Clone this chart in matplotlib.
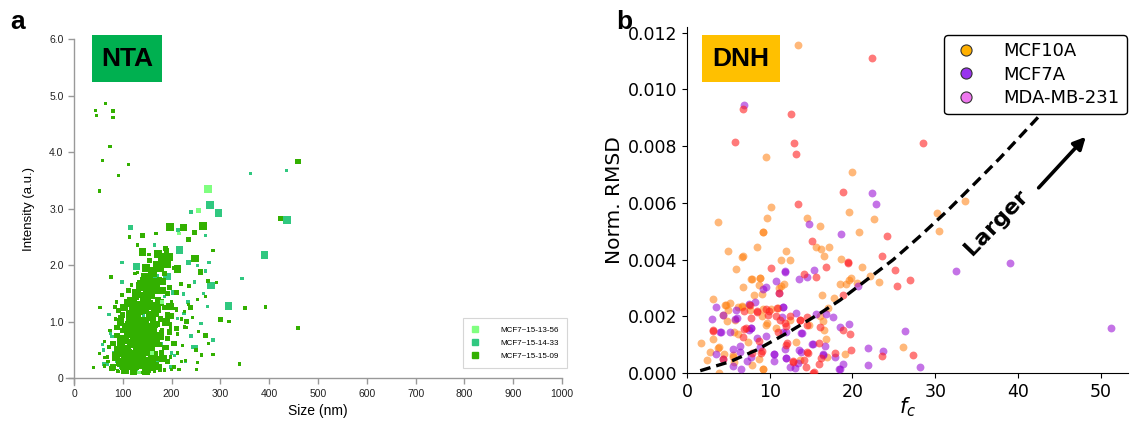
import matplotlib
matplotlib.use("Agg")
import matplotlib.pyplot as plt
from matplotlib.lines import Line2D
from matplotlib.patches import Rectangle

# ---------------- Panel a (NTA) data: (size nm, intensity, marker class) ----------------
nta_series = ["MCF7~15-13-56", "MCF7~15-14-33", "MCF7~15-15-09"]
nta_colors = ["#80ff80", "#30c880", "#33b000"]

light_size = [274, 255, 215, 133, 160, 180]
light_int = [3.35, 2.97, 2.56, 0.10, 0.45, 1.35]
light_cls = [3, 2, 1, 1, 1, 1]

teal_size = [362, 435, 240, 279, 296, 437, 390, 317, 344, 270, 213, 116, 165, 216, 234, 253, 277,
             270, 98, 128, 167, 191, 247, 281, 98, 204, 224, 265, 234, 274, 101, 72, 212, 260, 285,
             78, 60, 60, 110, 243, 206,
             68, 82, 96, 102, 108, 115, 122, 128, 135, 143, 148, 155, 160, 170, 178, 185, 192, 200,
             210, 225, 240, 250, 58, 75, 88, 198, 228]
teal_int = [3.62, 3.67, 2.94, 3.06, 2.92, 2.80, 2.18, 1.28, 1.76, 2.53, 2.62, 2.67, 2.36, 2.27, 2.05,
            1.99, 2.05, 1.90, 2.05, 1.98, 1.77, 1.80, 1.70, 1.64, 1.70, 1.52, 1.49, 1.50, 1.35, 1.27,
            1.27, 1.13, 1.06, 0.97, 0.68, 0.74, 0.50, 0.25, 0.10, 0.55, 0.40,
            0.25, 0.45, 0.20, 0.55, 0.72, 0.30, 1.00, 0.15, 0.60, 1.10, 0.35, 1.30, 0.95, 0.30, 0.62,
            1.45, 1.00, 0.45, 0.90, 1.15, 0.75, 0.55, 0.60, 0.80, 0.30, 0.20, 0.30]
teal_cls = [1, 1, 1, 3, 3, 3, 3, 3, 1, 1, 1, 2, 1, 3, 2, 1, 1, 1, 1, 3, 3, 3, 1, 3, 1, 2, 1, 1, 1, 1,
            1, 1, 1, 1, 1, 1, 1, 1, 1, 1, 1,
            1, 1, 1, 2, 1, 2, 2, 1, 2, 1, 1, 2, 1, 1, 1, 1, 1, 1, 1, 1, 1, 1, 1, 1, 1, 1, 1]

green_size = [64, 44, 46, 80, 80, 74, 58, 112, 91, 52,
              459, 423, 392, 350, 459, 339, 300, 318, 285, 285,
              264, 247, 234, 224, 197, 168, 141, 114, 130, 140, 154, 248, 183, 195, 190, 212, 259, 148,
              154, 149, 130, 76, 143, 134, 180, 275, 292, 163, 169, 125, 219, 236, 210, 270, 98, 114,
              159, 105, 87, 135, 253, 239, 84, 53, 122, 176, 197, 209, 226, 93, 231, 243, 226, 210,
              197, 255, 270, 276, 180, 74, 62, 52, 69, 62, 40, 89, 160, 176, 200, 215, 251, 253, 250,
              261, 229,
              62, 70, 78, 84, 90, 92, 97, 100, 104, 108, 112, 116, 120, 124, 128, 132, 136, 140, 144,
              148, 152, 156, 160, 165, 170, 175, 180, 186, 192, 198, 205, 212, 220,
              72, 80, 88, 95, 100, 105, 110, 113, 118, 122, 126, 130, 134, 138, 142, 146, 150, 154,
              158, 162, 166, 170, 175, 180, 186, 192, 198, 205, 212, 222, 230,
              85, 92, 100, 108, 115, 120, 126, 130, 136, 140, 145, 150, 155, 160, 166, 172, 178, 185,
              192, 200, 210, 220, 235,
              132, 140, 145, 150, 155, 160, 165, 170, 175, 180, 185, 190, 195, 205, 118, 125]
green_int = [4.86, 4.74, 4.65, 4.73, 4.61, 4.10, 3.85, 3.78, 3.59, 3.31,
             3.83, 2.83, 1.26, 1.24, 0.89, 0.25, 1.04, 1.00, 0.42, 2.26,
             2.69, 2.58, 2.46, 2.67, 2.68, 2.56, 2.52, 2.50, 2.36, 2.23, 2.19, 2.12, 2.09, 2.15, 2.02,
             1.93, 1.88, 1.95, 2.09, 1.83, 1.87, 1.79, 1.72, 1.69, 1.71, 1.72, 1.69, 1.61, 1.56, 1.53,
             1.67, 1.63, 1.52, 1.45, 1.47, 1.40, 1.47, 1.37, 1.35, 1.47, 1.39, 1.25, 1.26, 1.25, 1.30,
             1.34, 1.27, 1.23, 1.18, 1.09, 1.01, 1.07, 0.91, 0.88, 0.96, 0.83, 0.75, 0.62, 0.86, 0.84,
             0.65, 0.44, 0.38, 0.37, 0.19, 0.13, 0.16, 0.15, 0.16, 0.16, 0.16, 0.28, 0.50, 0.41, 0.32,
             0.22, 0.30, 0.18, 0.35, 0.12, 0.26, 0.42, 0.20, 0.32, 0.14, 0.45, 0.25, 0.12, 0.38, 0.20,
             0.30, 0.10, 0.42, 0.22, 0.33, 0.14, 0.40, 0.25, 0.12, 0.35, 0.20, 0.45, 0.15, 0.30, 0.38,
             0.20, 0.45, 0.30,
             0.55, 0.62, 0.75, 0.58, 0.85, 0.68, 0.52, 0.95, 0.78, 0.60, 0.88, 0.70, 0.52, 0.95, 0.80,
             0.62, 0.90, 0.72, 0.55, 0.85, 0.68, 0.95, 0.60, 0.80, 0.55, 0.70, 0.90, 0.62, 0.78, 0.58,
             0.90,
             1.05, 1.20, 1.12, 1.35, 1.05, 1.25, 1.45, 1.10, 1.30, 1.02, 1.20, 1.42, 1.08, 1.28, 1.15,
             1.40, 1.05, 1.25, 1.12, 1.35, 1.20, 1.05, 1.30,
             1.55, 1.65, 1.80, 1.58, 1.72, 1.90, 1.62, 2.00, 1.75, 2.15, 1.85, 2.25, 1.60, 1.95, 1.65,
             1.85]
green_cls = [1, 1, 1, 1, 1, 1, 1, 1, 1, 1,
             2, 2, 1, 1, 1, 1, 2, 1, 1, 1,
             3, 2, 2, 3, 3, 1, 2, 1, 1, 3, 1, 3, 3, 3, 3, 3, 2, 3, 2, 1, 1, 1, 3, 2, 3, 1, 1, 3, 3, 1,
             1, 1, 2, 1, 1, 2, 3, 1, 1, 2, 1, 2, 1, 1, 1, 3, 3, 1, 1, 1, 2, 1, 1, 2, 1, 1, 2, 1, 1, 1,
             1, 1, 1, 1, 1, 1, 1, 1, 1, 1, 1, 1, 1, 1, 1,
             1, 1, 2, 2, 1, 2, 2, 2, 3, 2, 3, 3, 2, 3, 2, 3, 1, 3, 2, 2, 2, 2, 2, 1, 2, 2, 2, 1, 2, 1,
             1, 1, 1,
             1, 2, 2, 3, 2, 3, 3, 3, 3, 3, 3, 3, 3, 3, 3, 3, 3, 2, 3, 3, 2, 2, 2, 2, 2, 2, 1, 2, 1, 1,
             1,
             1, 2, 2, 2, 3, 3, 3, 3, 3, 3, 3, 3, 3, 3, 3, 2, 2, 2, 2, 1, 1, 1, 1,
             2, 3, 3, 3, 3, 3, 2, 3, 2, 3, 2, 2, 2, 1, 1, 1]

# dense core of the green cloud
core_size = [98, 106, 112, 118, 126, 133, 140, 147, 155, 162, 168,
             100, 108, 116, 124, 132, 139, 145, 152, 158, 164, 170,
             120, 128, 136, 144, 150, 157, 163, 168, 176, 184, 172, 188,
             90, 88, 95, 103, 112, 80, 86, 176, 182, 190, 188, 196, 200, 180, 192,
             110, 122, 130, 137, 148, 155, 160, 128, 112, 142,
             104, 118, 134, 150, 166, 96, 140, 158, 146, 124]
core_int = [0.28, 0.50, 0.22, 0.62, 0.32, 0.78, 0.25, 0.55, 0.85, 0.40, 0.62,
            0.70, 0.90, 1.12, 0.98, 1.20, 0.60, 1.00, 1.30, 1.10, 0.95, 1.22,
            1.35, 1.50, 1.62, 1.45, 1.75, 1.55, 1.85, 1.70, 1.95, 2.05, 2.20, 2.30,
            0.50, 0.90, 1.00, 1.25, 1.55, 0.20, 0.40, 0.75, 0.35, 0.55, 1.00, 0.82, 1.10, 1.55, 1.50,
            0.38, 0.12, 0.50, 0.95, 0.12, 0.30, 0.70, 1.25, 0.80, 1.25,
            0.15, 0.42, 0.35, 0.48, 0.22, 0.65, 0.72, 0.25, 0.90, 0.72]
core_cls = [4, 4, 4, 4, 4, 4, 4, 4, 4, 4, 3,
            3, 4, 4, 4, 4, 4, 4, 4, 4, 3, 3,
            4, 4, 4, 4, 4, 4, 3, 3, 3, 3, 3, 2,
            3, 2, 3, 3, 2, 2, 3, 3, 3, 2, 3, 2, 2, 3, 2,
            4, 3, 4, 4, 3, 4, 4, 4, 4, 4,
            3, 4, 4, 4, 3, 3, 4, 4, 4, 4]

nta_xticks = [0, 100, 200, 300, 400, 500, 600, 700, 800, 900, 1000]
nta_yticks = [0, 1, 2, 3, 4, 5, 6]
nta_yticklabels = ["0", "1.0", "2.0", "3.0", "4.0", "5.0", "6.0"]

# ---------------- Panel b (DNH) data ----------------
orange_fc = [13.4, 9.6, 19.9, 10.1, 3.7, 9.7, 14.5, 16.1, 19.6, 22.6, 30.2, 30.5, 9.2, 20.8, 4.9, 6.8,
             8.5, 12.0, 11.4, 12.5, 16.2, 17.2, 16.5, 18.6, 21.2, 5.9, 23.2, 22.1, 33.6, 26.1, 19.8,
             19.2, 19.6, 20.5, 18.5, 17.8, 16.3, 15.6, 11.7, 11.1, 8.8, 7.8, 9.1, 8.1, 6.8, 6.7, 9.2,
             3.1, 4.6, 5.2, 4.3, 3.1, 1.65, 2.8, 2.45, 3.8, 3.9, 4.8, 5.8, 6.2, 6.6, 5.7, 6.2, 5.5, 7.6,
             7.4, 8.7, 9.2, 9.7, 9.1, 11.0, 12.4, 14.8, 16.4, 17.1, 16.1, 16.5, 16.8, 16.9, 19.1, 3.9,
             4.7, 5.0, 6.6, 7.5, 9.2, 10.1, 9.5, 10.7, 13.2, 13.6, 9.2, 7.9, 4.5, 5.5, 5.7, 11.4, 7.7,
             8.8, 8.7]
orange_y = [0.01156, 0.00763, 0.00707, 0.00584, 0.00532, 0.00548, 0.00546, 0.00520, 0.00569, 0.00543,
            0.00565, 0.00501, 0.00497, 0.00496, 0.00429, 0.00412, 0.00443, 0.00430, 0.00398, 0.00399,
            0.00436, 0.00443, 0.00414, 0.00403, 0.00374, 0.00368, 0.00320, 0.00342, 0.00608, 0.00092,
            0.00334, 0.00314, 0.00328, 0.00319, 0.00314, 0.00265, 0.00275, 0.00446, 0.00313, 0.00300,
            0.00336, 0.00332, 0.00278, 0.00274, 0.00304, 0.00410, 0.00498, 0.00261, 0.00240, 0.00248,
            0.00205, 0.00121, 0.00105, 0.00073, 0.00046, 0.00089, 0.00001, 0.00185, 0.00187, 0.00234,
            0.00236, 0.00146, 0.00137, 0.00058, 0.00222, 0.00110, 0.00049, 0.00013, 0.00175, 0.00202,
            0.00228, 0.00187, 0.00169, 0.00182, 0.00230, 0.00201, 0.00152, 0.00119, 0.00058, 0.00068,
            0.00093, 0.00240, 0.00222, 0.00234, 0.00240, 0.00226, 0.00226, 0.00169, 0.00158, 0.00110,
            0.00046, 0.00013, 0.00028, 0.00066, 0.00063, 0.00040, 0.00308, 0.00332, 0.00334, 0.00310]

red_fc = [22.4, 6.76, 12.6, 5.84, 12.9, 28.5, 13.2, 18.8, 13.4, 24.2, 15.1, 19.4, 23.6, 10.1, 16.8,
          25.1, 25.4, 27.0, 27.3, 23.6, 19.4, 18.8, 15.6, 14.1, 3.2, 6.9, 7.6, 8.4, 7.7, 6.8, 8.7, 8.9,
          9.5, 9.9, 11.0, 10.8, 11.2, 12.0, 12.1, 12.8, 12.4, 13.7, 14.5, 14.2, 14.4, 15.3, 14.5, 16.1,
          15.9, 16.2, 17.9, 19.8, 18.8, 19.7, 6.9, 8.4, 9.8, 10.9, 7.1, 11.8, 12.0, 13.7, 14.5, 14.6,
          12.8, 9.1, 7.8, 4.3, 16.0, 15.2, 11.1, 3.2]
red_y = [0.01110, 0.00931, 0.00912, 0.00815, 0.00810, 0.00812, 0.00771, 0.00637, 0.00597, 0.00483,
         0.00465, 0.00392, 0.00414, 0.00369, 0.00373, 0.00362, 0.00308, 0.00328, 0.00062, 0.00061,
         0.00389, 0.00275, 0.00340, 0.00349, 0.00147, 0.00155, 0.00240, 0.00216, 0.00193, 0.00128,
         0.00114, 0.00072, 0.00225, 0.00218, 0.00146, 0.00202, 0.00187, 0.00167, 0.00105, 0.00041,
         0.00202, 0.00187, 0.00073, 0.00047, 0.00022, 0.00002, 0.00199, 0.00163, 0.00107, 0.00052,
         0.00072, 0.00081, 0.00152, 0.00138, 0.00219, 0.00220, 0.00205, 0.00228, 0.00158, 0.00175,
         0.00099, 0.00188, 0.00169, 0.00069, 0.00040, 0.00078, 0.00069, 0.00049, 0.00032, 0.00000,
         0.00283, 0.00152]

purple_fc = [6.85, 22.3, 22.9, 14.8, 18.6, 11.8, 15.4, 32.5, 39.0, 51.2, 26.4, 28.2, 23.7, 21.9, 21.9,
             20.7, 14.5, 13.5, 11.9, 10.8, 11.1, 9.2, 9.5, 3.5, 3.0, 4.1, 3.5, 4.4, 5.2, 6.1, 5.6, 6.4,
             5.5, 6.5, 7.5, 8.2, 7.7, 7.5, 8.5, 8.8, 7.7, 9.5, 10.5, 10.5, 11.6, 11.5, 11.6, 11.9, 12.0,
             12.5, 13.2, 13.9, 13.5, 13.4, 13.0, 15.6, 16.8, 15.1, 16.4, 17.9, 18.8, 18.4, 17.7, 18.5,
             19.6, 4.0, 4.4, 5.9, 5.8, 11.6, 7.7, 12.0, 13.8, 13.8, 12.0, 10.5, 6.4, 7.2, 18.5, 16.4,
             16.7, 15.2]
purple_y = [0.00945, 0.00634, 0.00597, 0.00526, 0.00490, 0.00361, 0.00363, 0.00361, 0.00389, 0.00158,
            0.00149, 0.00022, 0.00079, 0.00087, 0.00028, 0.00307, 0.00338, 0.00332, 0.00356, 0.00323,
            0.00281, 0.00295, 0.00302, 0.00234, 0.00190, 0.00145, 0.00066, 0.00048, 0.00146, 0.00193,
            0.00085, 0.00096, 0.00025, 0.00013, 0.00242, 0.00252, 0.00160, 0.00152, 0.00122, 0.00093,
            0.00058, 0.00132, 0.00067, 0.00041, 0.00234, 0.00199, 0.00144, 0.00084, 0.00054, 0.00021,
            0.00212, 0.00140, 0.00081, 0.00034, 0.00017, 0.00207, 0.00208, 0.00101, 0.00067, 0.00058,
            0.00031, 0.00015, 0.00199, 0.00162, 0.00172, 0.00144, 0.00205, 0.00222, 0.00189, 0.00234,
            0.00160, 0.00146, 0.00140, 0.00075, 0.00052, 0.00066, 0.00073, 0.00042, 0.00014, 0.00063,
            0.00095, 0.00102]

curve_fc = [1.6, 5.2, 8.4, 12.4, 16.1, 18.5, 21.7, 24.9, 28.1, 31.4, 34.5, 37.8, 41.8, 43.0]
curve_y = [0.00008, 0.00040, 0.00081, 0.00146, 0.00211, 0.00257, 0.00328, 0.00399, 0.00481, 0.00570,
           0.00660, 0.00757, 0.00882, 0.00920]

dnh_labels = ["MCF10A", "MCF7A", "MDA-MB-231"]
dnh_legend_colors = ["#ffb000", "#9933ee", "#ee77ee"]
dnh_xticks = [0, 10, 20, 30, 40, 50]
dnh_yticks = [0.000, 0.002, 0.004, 0.006, 0.008, 0.010, 0.012]

# ---------------- figure ----------------
W, H = 1130, 422
fig = plt.figure(figsize=(W / 100, H / 100), dpi=100)

def fx(px):
    return px / W

def fy(py):
    return 1 - py / H

# ---------- panel a ----------
SANS = ["Liberation Sans", "DejaVu Sans"]
cls_s = {1: 6, 2: 14, 3: 30, 4: 44}
axa = fig.add_axes([fx(74), fy(378.3), fx(562) - fx(74), fy(39) - fy(378.3)])
axa.scatter(teal_size, teal_int, s=[cls_s[c] for c in teal_cls], marker="s", c=nta_colors[1],
            linewidths=0, zorder=2)
axa.scatter(core_size, core_int, s=[cls_s[c] for c in core_cls], marker="s", c=nta_colors[2],
            linewidths=0, zorder=3)
axa.scatter(green_size, green_int, s=[cls_s[c] for c in green_cls], marker="s", c=nta_colors[2],
            linewidths=0, zorder=3)
axa.scatter(light_size, light_int, s=[cls_s[c] for c in light_cls], marker="s", c=nta_colors[0],
            linewidths=0, zorder=4)
axa.set_xlim(0, 1000)
axa.set_ylim(0, 6)
axa.set_xticks(nta_xticks)
axa.set_xticklabels([str(t) for t in nta_xticks], fontsize=7.5, family=SANS)
axa.set_yticks(nta_yticks)
axa.set_yticklabels(nta_yticklabels, fontsize=7.5, family=SANS)
for side in ["top", "right"]:
    axa.spines[side].set_visible(False)
for side in ["left", "bottom"]:
    axa.spines[side].set_color("#999999")
    axa.spines[side].set_linewidth(1.0)
axa.spines["bottom"].set_bounds(-16, 1000)
axa.spines["left"].set_bounds(-0.12, 6)
axa.tick_params(colors="#999999", labelcolor="#222222", length=4, width=1)
axa.set_xlabel("Size (nm)", fontsize=10, family=SANS, labelpad=4)
axa.set_ylabel("Intensity (a.u.)", fontsize=9.5, family=SANS)
axa.yaxis.set_label_coords(-0.08, 0.5)
handles_a = [Line2D([], [], ls="none", marker="s", ms=5, mfc=c, mec=c) for c in nta_colors]
lga = axa.legend(handles_a, nta_series, loc="lower right", bbox_to_anchor=(1.010, 0.030),
                 prop={"family": SANS, "size": 5.8}, fancybox=False, edgecolor="#cccccc",
                 handletextpad=2.6, borderpad=1.0, labelspacing=0.7, handlelength=1.0,
                 borderaxespad=0)
lga.get_frame().set_linewidth(0.8)

# NTA label box
fig.patches.append(Rectangle((fx(92), fy(82)), fx(162) - fx(92), fy(35) - fy(82),
                             transform=fig.transFigure, facecolor="#00b050", edgecolor="none"))
fig.text(fx(127), fy(58.5), "NTA", ha="center", va="center", fontsize=19, fontweight="bold",
         family=SANS, color="black")

# ---------- panel b ----------
ORANGE = "#ff7f0e"
RED = "#ff1a1a"
PURPLE = "#9400d3"
axb = fig.add_axes([fx(687), fy(373), fx(1128) - fx(687), fy(27) - fy(373)])
ms = 32
axb.scatter(orange_fc, orange_y, s=ms, c=ORANGE, alpha=0.55, linewidths=0, zorder=2)
axb.scatter(purple_fc, purple_y, s=ms, c=PURPLE, alpha=0.55, linewidths=0, zorder=3)
axb.scatter(red_fc, red_y, s=ms, c=RED, alpha=0.58, linewidths=0, zorder=4)
axb.plot(curve_fc, curve_y, color="black", lw=2.4, ls=(0, (3.2, 1.8)), zorder=5)
axb.set_xlim(0, 53.3)
axb.set_ylim(0, 0.0122)
axb.set_xticks(dnh_xticks)
axb.set_yticks(dnh_yticks)
axb.set_yticklabels(["%.3f" % v for v in dnh_yticks])
axb.tick_params(labelsize=12.5, length=3.5, width=0.8)
for side in ["top", "right"]:
    axb.spines[side].set_visible(False)
axb.set_xlabel("$f_c$", fontsize=15, labelpad=-4)
axb.set_ylabel("Norm. RMSD", fontsize=14.5)
axb.yaxis.set_label_coords(-0.142, 0.5)

axb.annotate("", xy=(48.2, 0.00833), xytext=(42.5, 0.00653),
             arrowprops=dict(arrowstyle="-|>", lw=2.6, color="black", mutation_scale=18,
                             shrinkA=0, shrinkB=0), zorder=6)
axb.text(37.4, 0.00530, "Larger", rotation=46, ha="center", va="center", fontsize=16,
         fontweight="bold", zorder=6)

handles_b = [Line2D([], [], ls="none", marker="o", ms=8, mfc=c, mec="#333333", mew=0.8)
             for c in dnh_legend_colors]
lgb = fig.legend(handles_b, dnh_labels, loc="upper right", bbox_to_anchor=(fx(1127), fy(35)),
                 bbox_transform=fig.transFigure, fontsize=13, framealpha=1, edgecolor="black",
                 handletextpad=1.3, borderpad=0.4, labelspacing=0.3, handlelength=1.6,
                 borderaxespad=0)
lgb.get_frame().set_linewidth(1.0)
lgb.set_zorder(10)

fig.patches.append(Rectangle((fx(702), fy(82)), fx(780) - fx(702), fy(35) - fy(82),
                             transform=fig.transFigure, facecolor="#ffc000", edgecolor="none"))
fig.text(fx(741), fy(58.5), "DNH", ha="center", va="center", fontsize=19, fontweight="bold",
         family=SANS, color="black")

# panel letters
fig.text(fx(18), fy(22), "a", ha="center", va="center", fontsize=19, fontweight="bold", family=SANS)
fig.text(fx(624), fy(22), "b", ha="center", va="center", fontsize=19, fontweight="bold", family=SANS)

fig.savefig("out.png", dpi=100)
